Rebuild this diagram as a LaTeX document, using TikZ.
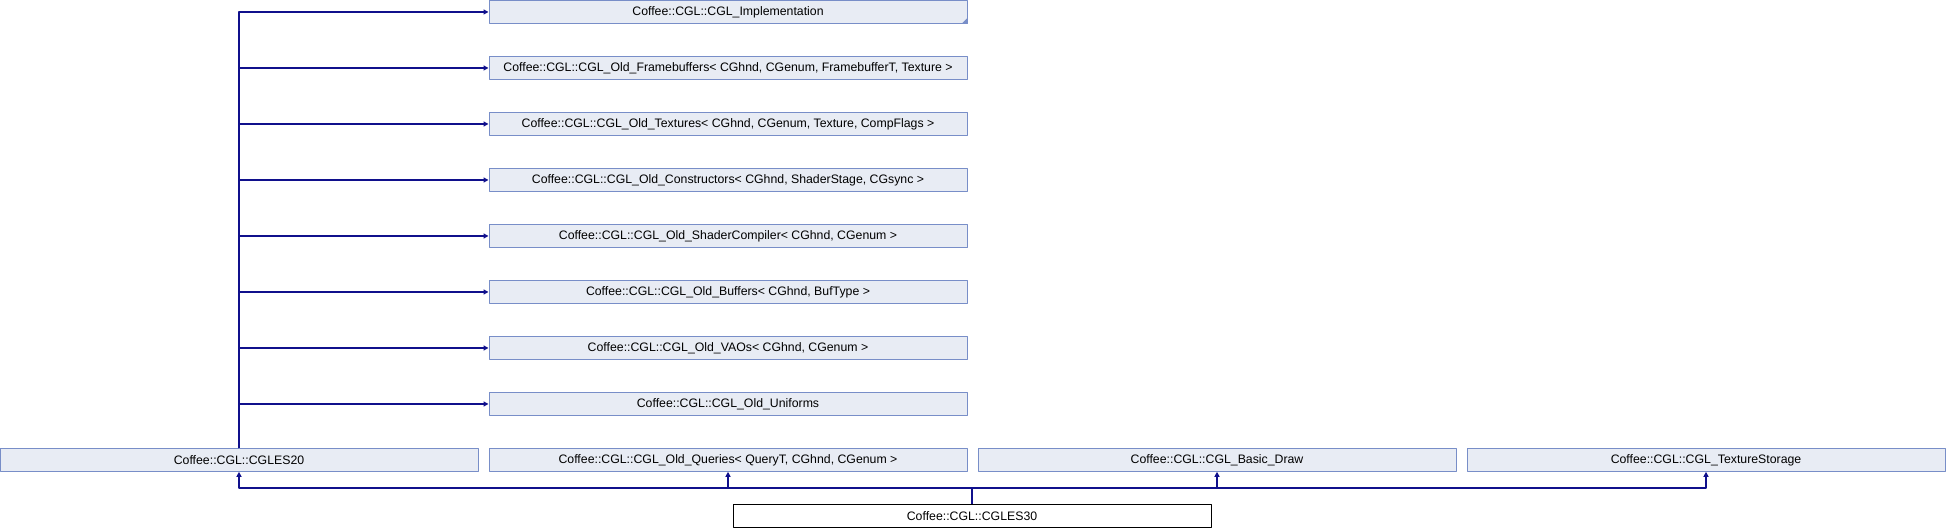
\documentclass[tikz,border=0pt]{standalone}
\usepackage{fontspec}
\setmainfont{Liberation Sans}
\usepackage{tikz}
\usetikzlibrary{arrows.meta}

\begin{document}
\begin{tikzpicture}[>={Triangle[length=5bp,width=5bp]},line join=bevel]
%%
\definecolor{edgecolor}{RGB}{16,16,140}
\definecolor{boxfill}{RGB}{232,236,244}
\definecolor{boxline}{RGB}{120,142,200}
\tikzset{
  cls/.style={draw=boxline,fill=boxfill,line width=1bp,rectangle,inner sep=0pt,
    minimum width=478bp,minimum height=22.6bp,font=\fontsize{12.3bp}{14bp}\selectfont},
  self/.style={cls,draw=black,fill=white},
  inh/.style={draw=edgecolor,line width=1.2bp,->}
}
  \path[use as bounding box] (0bp,0bp) rectangle (1946bp,528bp);
  \node (impl) at (728bp,516bp) [cls] {Coffee::CGL::CGL\_Implementation};
  \node (fbo) at (728bp,460bp) [cls] {Coffee::CGL::CGL\_Old\_Framebuffers< CGhnd, CGenum, FramebufferT, Texture >};
  \node (tex) at (728bp,404bp) [cls] {Coffee::CGL::CGL\_Old\_Textures< CGhnd, CGenum, Texture, CompFlags >};
  \node (ctor) at (728bp,348bp) [cls] {Coffee::CGL::CGL\_Old\_Constructors< CGhnd, ShaderStage, CGsync >};
  \node (shader) at (728bp,292bp) [cls] {Coffee::CGL::CGL\_Old\_ShaderCompiler< CGhnd, CGenum >};
  \node (buf) at (728bp,236bp) [cls] {Coffee::CGL::CGL\_Old\_Buffers< CGhnd, BufType >};
  \node (vao) at (728bp,180bp) [cls] {Coffee::CGL::CGL\_Old\_VAOs< CGhnd, CGenum >};
  \node (unif) at (728bp,124bp) [cls] {Coffee::CGL::CGL\_Old\_Uniforms};
  \node (es20) at (239bp,68bp) [cls] {Coffee::CGL::CGLES20};
  \node (query) at (728bp,68bp) [cls] {Coffee::CGL::CGL\_Old\_Queries< QueryT, CGhnd, CGenum >};
  \node (draw) at (1217bp,68bp) [cls] {Coffee::CGL::CGL\_Basic\_Draw};
  \node (texstore) at (1706bp,68bp) [cls] {Coffee::CGL::CGL\_TextureStorage};
  \node (es30) at (972bp,12bp) [self] {Coffee::CGL::CGLES30};
  \fill[boxline] (impl.south east) -- ++(-6bp,0bp) -- ++(6bp,6bp) -- cycle;
  \coordinate (bus) at (972bp,40bp);
  \draw [inh] (es20) |- (impl);
  \draw [inh] (es20) |- (fbo);
  \draw [inh] (es20) |- (tex);
  \draw [inh] (es20) |- (ctor);
  \draw [inh] (es20) |- (shader);
  \draw [inh] (es20) |- (buf);
  \draw [inh] (es20) |- (vao);
  \draw [inh] (es20) |- (unif);
  \draw [inh,-] (es30) -- (bus);
  \draw [inh] (bus) -| (es20);
  \draw [inh] (bus) -| (query);
  \draw [inh] (bus) -| (draw);
  \draw [inh] (bus) -| (texstore);
%
\end{tikzpicture}
\end{document}
